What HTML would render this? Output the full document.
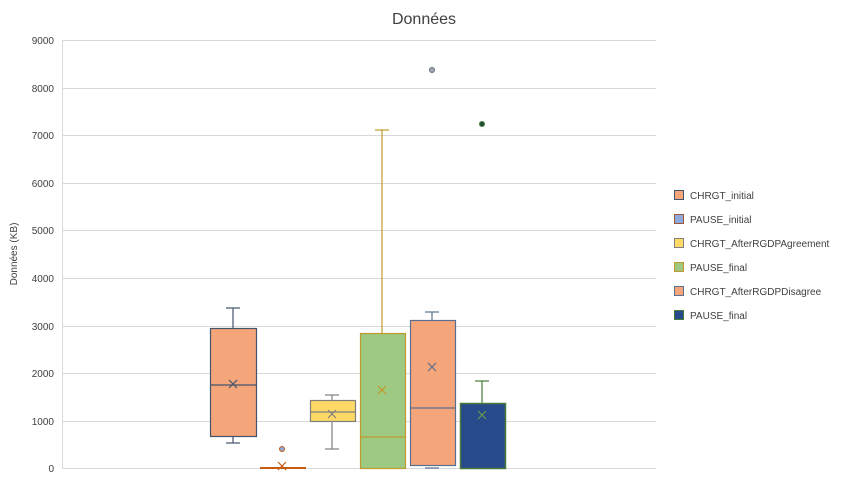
<!DOCTYPE html>
<html><head><meta charset="utf-8"><style>
html,body{margin:0;padding:0;background:#fff;}
svg text{font-family:"Liberation Sans",sans-serif;}
</style></head><body>
<svg width="849" height="479" xmlns="http://www.w3.org/2000/svg">
<rect width="849" height="479" fill="#fff"/>
<text x="424" y="24" font-size="16" fill="#404040" text-anchor="middle">Données</text>
<g stroke="#d9d9d9" stroke-width="1">
<line x1="62" y1="40.5" x2="656" y2="40.5"/>
<line x1="62" y1="88.5" x2="656" y2="88.5"/>
<line x1="62" y1="135.5" x2="656" y2="135.5"/>
<line x1="62" y1="183.5" x2="656" y2="183.5"/>
<line x1="62" y1="230.5" x2="656" y2="230.5"/>
<line x1="62" y1="278.5" x2="656" y2="278.5"/>
<line x1="62" y1="326.5" x2="656" y2="326.5"/>
<line x1="62" y1="373.5" x2="656" y2="373.5"/>
<line x1="62" y1="421.5" x2="656" y2="421.5"/>
<line x1="62" y1="468.5" x2="656" y2="468.5"/>
<line x1="62.5" y1="40" x2="62.5" y2="468"/>
</g>
<g font-size="10" fill="#404040" text-anchor="end">
<text x="54" y="44">9000</text><text x="54" y="92">8000</text><text x="54" y="139">7000</text>
<text x="54" y="187">6000</text><text x="54" y="234">5000</text><text x="54" y="282">4000</text>
<text x="54" y="330">3000</text><text x="54" y="377">2000</text><text x="54" y="425">1000</text>
<text x="54" y="472">0</text>
</g>
<text transform="translate(17,254) rotate(-90)" font-size="10" fill="#404040" text-anchor="middle">Données (KB)</text>

<!-- Box1 -->
<g stroke="#44546a" stroke-width="1.2" fill="none">
<line x1="233" y1="308" x2="233" y2="328"/><line x1="226" y1="308" x2="240" y2="308"/>
<line x1="233" y1="436" x2="233" y2="443"/><line x1="226" y1="443" x2="240" y2="443"/>
<rect x="210.5" y="328.5" width="46" height="108" fill="#f4a57a"/>
<line x1="210" y1="385" x2="256" y2="385"/>
<path d="M229 380 L237 388 M237 380 L229 388"/>
</g>
<!-- Box2 -->
<line x1="260" y1="468" x2="306" y2="468" stroke="#c55a11" stroke-width="2"/>
<circle cx="282" cy="449" r="2.5" fill="#8ea9db" stroke="#c55a11" stroke-width="1"/>
<path d="M278 462 L286 470 M286 462 L278 470" stroke="#c55a11" stroke-width="1.2"/>
<!-- Box3 -->
<g stroke="#7f7f7f" stroke-width="1.2" fill="none">
<line x1="332" y1="395" x2="332" y2="400"/><line x1="325" y1="395" x2="339" y2="395"/>
<line x1="332" y1="421" x2="332" y2="449"/><line x1="325" y1="449" x2="339" y2="449"/>
<rect x="310.5" y="400.5" width="45" height="21" fill="#ffd966"/>
<line x1="310" y1="412" x2="355" y2="412"/>
<path d="M328 410 L336 418 M336 410 L328 418"/>
</g>
<!-- Box4 -->
<g stroke="#c09a2b" stroke-width="1.2" fill="none">
<line x1="382" y1="130" x2="382" y2="333"/><line x1="375" y1="130" x2="389" y2="130"/>
<rect x="360.5" y="333.5" width="45" height="135" fill="#9dc983"/>
<line x1="360" y1="437" x2="405" y2="437"/>
<path d="M378 386 L386 394 M386 386 L378 394"/>
</g>
<!-- Box5 -->
<g stroke="#5b6f8f" stroke-width="1.2" fill="none">
<line x1="432" y1="312" x2="432" y2="320"/><line x1="425" y1="312" x2="439" y2="312"/>
<line x1="425" y1="468" x2="439" y2="468"/>
<rect x="410.5" y="320.5" width="45" height="145" fill="#f4a57a"/>
<line x1="410" y1="408" x2="455" y2="408"/>
<path d="M428 363 L436 371 M436 363 L428 371"/>
</g>
<circle cx="432" cy="70" r="2.5" fill="#a5a5a5" stroke="#5b6f8f" stroke-width="1"/>
<!-- Box6 -->
<g stroke="#4a7a3a" stroke-width="1.2" fill="none">
<line x1="482" y1="381" x2="482" y2="403"/><line x1="475" y1="381" x2="489" y2="381"/>
<rect x="460.5" y="403.5" width="45" height="65" fill="#264a8a" stroke-width="1.5"/>
<path d="M478 411 L486 419 M486 411 L478 419" stroke="#6a9a4a"/>
</g>
<circle cx="482" cy="124" r="2.5" fill="#1f4e3a" stroke="#4a7a3a" stroke-width="1"/>

<!-- Legend -->
<g font-size="10" fill="#404040">
<rect x="674.5" y="190.5" width="9" height="9" fill="#f4a57a" stroke="#44546a"/><text x="690" y="199">CHRGT_initial</text>
<rect x="674.5" y="214.5" width="9" height="9" fill="#8ea9db" stroke="#9a5a3a"/><text x="690" y="223">PAUSE_initial</text>
<rect x="674.5" y="238.5" width="9" height="9" fill="#ffd966" stroke="#7f7f7f"/><text x="690" y="247">CHRGT_AfterRGDPAgreement</text>
<rect x="674.5" y="262.5" width="9" height="9" fill="#9dc983" stroke="#c09a2b"/><text x="690" y="271">PAUSE_final</text>
<rect x="674.5" y="286.5" width="9" height="9" fill="#f4a57a" stroke="#5b6f8f"/><text x="690" y="295">CHRGT_AfterRGDPDisagree</text>
<rect x="674.5" y="310.5" width="9" height="9" fill="#264a8a" stroke="#4a7a3a"/><text x="690" y="319">PAUSE_final</text>
</g>
</svg>
</body></html>
